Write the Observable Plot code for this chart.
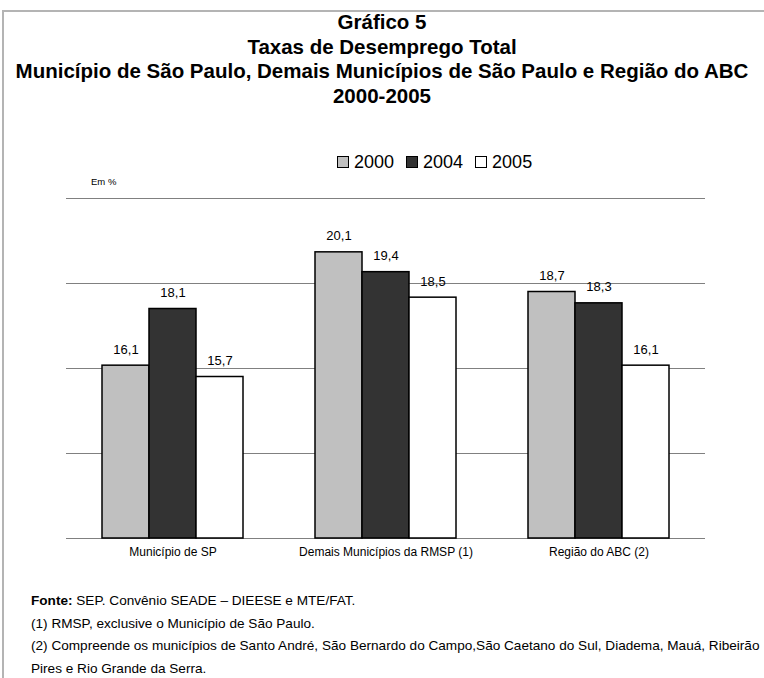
<!DOCTYPE html>
<html>
<head>
<meta charset="utf-8">
<script src="https://cdn.jsdelivr.net/npm/d3@7"></script>
<script src="https://cdn.jsdelivr.net/npm/@observablehq/plot@0.6"></script>
<style>
  body { margin: 0; background: #fff; width: 764px; height: 678px; position: relative; overflow: hidden; font-family: "Liberation Sans", Arial, sans-serif; color: #000; }
  #frame { position: absolute; left: 2px; top: 10px; width: 800px; height: 700px; border-top: 2px solid #b4b4b4; border-left: 2px solid #b4b4b4; }
  #title { position: absolute; left: 0; top: 10px; width: 764px; text-align: center; font-weight: bold; font-size: 20.5px; line-height: 24.5px; }
  #legend { position: absolute; left: 337px; top: 151px; font-size: 18px; line-height: 22px; white-space: nowrap; }
  #legend span.sw { display: inline-block; width: 10px; height: 10px; border: 1px solid #000; margin-right: 5px; vertical-align: 0px; }
  #legend span.it { margin-right: 12px; }
  #em { position: absolute; left: 91px; top: 176px; font-size: 9.5px; }
  #chart { position: absolute; left: 0; top: 160px; }
  #foot { position: absolute; left: 31px; top: 590px; font-size: 13.6px; line-height: 22.5px; white-space: nowrap; }
</style>
</head>
<body>
<div id="frame"></div>
<div id="title"></div>
<div id="legend"></div>
<div id="em">Em %</div>
<div id="chart"></div>
<div id="foot"></div>
<script>
const titleLines = ["Gráfico 5", "Taxas de Desemprego Total", "Município de São Paulo, Demais Municípios de São Paulo e Região do ABC", "2000-2005"];
const categories = ["Município de SP", "Demais Municípios da RMSP (1)", "Região do ABC (2)"];
const years = ["2000", "2004", "2005"];
const values2000 = [16.1, 20.1, 18.7];
const values2004 = [18.1, 19.4, 18.3];
const values2005 = [15.7, 18.5, 16.1];
const yearColors = ["#c0c0c0", "#333333", "#ffffff"];
const yDomain = [10, 22];
const gridTicks = [10, 13, 16, 19, 22];
const footSource = "SEP. Convênio SEADE – DIEESE e MTE/FAT.";
const footNotes = ["(1) RMSP, exclusive o Município de São Paulo.", "(2) Compreende os municípios de Santo André, São Bernardo do Campo,São Caetano do Sul, Diadema, Mauá, Ribeirão", "Pires e Rio Grande da Serra."];

document.getElementById("title").innerHTML = titleLines.map(t => `<div>${t}</div>`).join("");
document.getElementById("legend").innerHTML = years.map((y, i) => `<span class="it"><span class="sw" style="background:${yearColors[i]}"></span>${y}</span>`).join("");
document.getElementById("foot").innerHTML = `<div><b>Fonte:</b> ${footSource}</div>` + footNotes.map(t => `<div>${t}</div>`).join("");

const seriesByYear = [values2000, values2004, values2005];
const data = categories.flatMap((c, i) => years.map((y, j) => ({cat: c, year: y, value: seriesByYear[j][i]})));
const fmt = v => v.toFixed(1).replace(".", ",");

const chart = Plot.plot({
  width: 764,
  height: 408,
  marginTop: 38,
  marginBottom: 30,
  marginLeft: 66,
  marginRight: 59,
  style: {fontFamily: "Liberation Sans, Arial, sans-serif", fontSize: "12px", color: "#000", background: "transparent", overflow: "visible"},
  facet: {data, x: "cat"},
  fx: {domain: categories, padding: 0, label: null, axis: "bottom", tickSize: 0, tickPadding: 9},
  x: {domain: years, axis: null, paddingInner: 0, paddingOuter: 0.742},
  y: {domain: yDomain, axis: null},
  color: {domain: years, range: yearColors},
  marks: [
    Plot.ruleY(gridTicks, {stroke: "#808080", strokeWidth: 1}),
    Plot.barY(data, {x: "year", y1: yDomain[0], y2: "value", fill: "year", stroke: "#000", strokeWidth: 1.5}),
    Plot.text(data, {x: "year", y: "value", text: d => fmt(d.value), dy: -12, lineAnchor: "bottom", fontSize: 13, fill: "#000"})
  ]
});
document.getElementById("chart").appendChild(chart);
</script>
</body>
</html>
